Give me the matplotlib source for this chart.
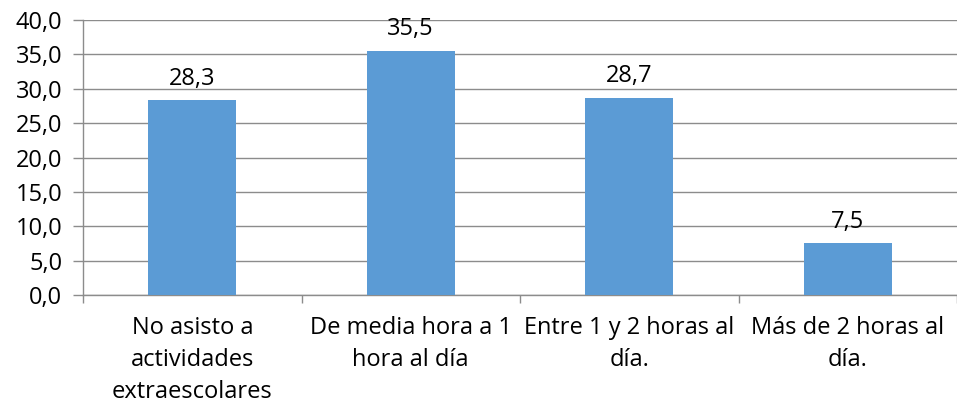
import matplotlib
matplotlib.use("Agg")
import matplotlib.pyplot as plt
from matplotlib.ticker import FixedLocator, FuncFormatter

categories = ["No asisto a\nactividades\nextraescolares",
              "De media hora a 1\nhora al día",
              "Entre 1 y 2 horas al\ndía.",
              "Más de 2 horas al\ndía."]
values = [28.3, 35.5, 28.7, 7.5]
y_ticks = [0, 5, 10, 15, 20, 25, 30, 35, 40]

plt.rcParams['font.family'] = ['Open Sans', 'DejaVu Sans']

fig = plt.figure(figsize=(9.57, 4.07), dpi=100)
ax = fig.add_axes([83 / 957, 1 - 295 / 407, 874 / 957, 275 / 407])

x = list(range(len(values)))
bars = ax.bar(x, values, width=0.405, color='#5B9BD5', zorder=3)

for xi, v in zip(x, values):
    ax.annotate(f"{v:.1f}".replace('.', ','), (xi, v), xytext=(0, 7),
                textcoords='offset points', ha='center', va='bottom',
                fontsize=17, color='black')

ax.set_xlim(-0.5, 3.5)
ax.set_ylim(0, 40)
ax.yaxis.set_major_locator(FixedLocator(y_ticks))
ax.yaxis.set_major_formatter(FuncFormatter(lambda v, p: f"{v:.1f}".replace('.', ',')))
ax.grid(axis='y', color='#8c8c8c', linewidth=1, zorder=0)

# category labels as minor ticks, boundary marks as major ticks
ax.set_xticks([-0.5, 0.5, 1.5, 2.5, 3.5])
ax.set_xticklabels([])
ax.set_xticks(x, minor=True)
ax.set_xticklabels(categories, minor=True, fontsize=17, linespacing=1.45)
ax.tick_params(axis='x', which='major', length=6, color='#8c8c8c', width=1)
ax.tick_params(axis='x', which='minor', length=0, pad=15)
ax.tick_params(axis='y', length=7, color='#8c8c8c', width=1, labelsize=17, pad=8)

for s in ['top', 'right']:
    ax.spines[s].set_visible(False)
for s in ['left', 'bottom']:
    ax.spines[s].set_color('#8c8c8c')
    ax.spines[s].set_linewidth(1)

fig.savefig("out.png", dpi=100)
